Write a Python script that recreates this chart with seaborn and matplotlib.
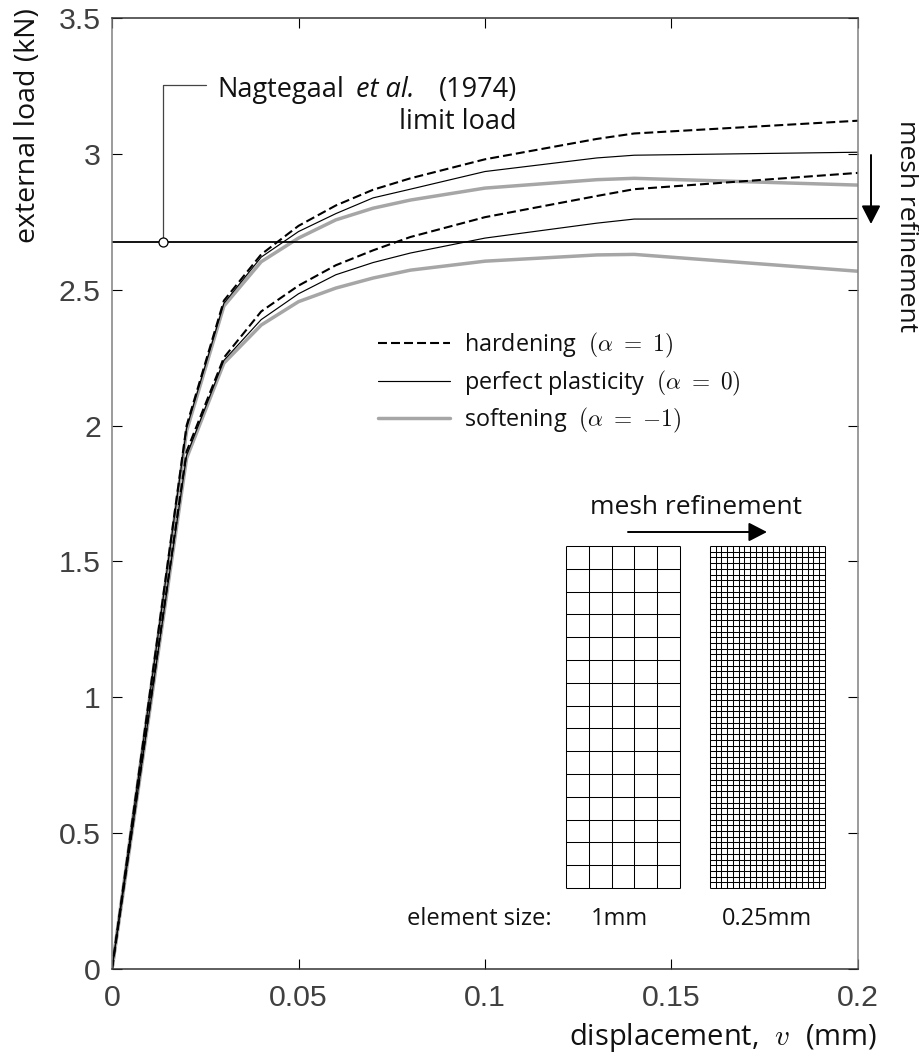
import numpy as np
import pandas as pd
import matplotlib
matplotlib.use("Agg")
import matplotlib.pyplot as plt
from matplotlib.lines import Line2D
from matplotlib.patches import FancyArrowPatch
import seaborn as sns

# Curve data
disp = [0, 0.02, 0.03, 0.04, 0.05, 0.06, 0.07, 0.08, 0.10, 0.13, 0.14, 0.20]
hard_coarse = [0, 2.00, 2.46, 2.63, 2.735, 2.81, 2.868, 2.91, 2.98, 3.055, 3.075, 3.122]
perf_coarse = [0, 1.99, 2.45, 2.62, 2.714, 2.78, 2.838, 2.87, 2.935, 2.985, 2.995, 3.006]
soft_coarse = [0, 1.98, 2.44, 2.603, 2.69, 2.757, 2.80, 2.83, 2.874, 2.905, 2.91, 2.885]
hard_fine = [0, 1.905, 2.25, 2.42, 2.515, 2.59, 2.645, 2.694, 2.767, 2.845, 2.87, 2.93]
perf_fine = [0, 1.89, 2.24, 2.39, 2.485, 2.555, 2.60, 2.635, 2.69, 2.745, 2.76, 2.762]
soft_fine = [0, 1.88, 2.23, 2.37, 2.456, 2.506, 2.543, 2.572, 2.605, 2.628, 2.63, 2.568]

limit_load = 2.675
limit_x = 0.0138
leader_y = 3.254
leader_end_x = 0.0252

x_ticks = [0, 0.05, 0.1, 0.15, 0.2]
x_tick_labels = ["0", "0.05", "0.1", "0.15", "0.2"]
y_ticks = [0, 0.5, 1, 1.5, 2, 2.5, 3, 3.5]
y_tick_labels = ["0", "0.5", "1", "1.5", "2", "2.5", "3", "3.5"]

# mesh cells (columns, rows)
coarse_mesh = (5, 15)
fine_mesh = (20, 60)

W, H = 920, 1057
TEXT_FONT = "Open Sans"
TICK_FONT = "Liberation Sans"
INK = "#111111"

sns.set_theme(style="ticks")
plt.rcParams["font.family"] = [TEXT_FONT, "DejaVu Sans"]
plt.rcParams["mathtext.fontset"] = "cm"


def fx(px):
    return px / W


def fy(py):
    return 1 - py / H


def add_mesh(fig, left, top, right, bottom, cells):
    m = fig.add_axes([fx(left), fy(bottom), fx(right - left), (bottom - top) / H])
    ncol, nrow = cells
    m.vlines(np.arange(ncol + 1), 0, nrow, color="black", lw=0.75, clip_on=False)
    m.hlines(np.arange(nrow + 1), 0, ncol, color="black", lw=0.75, clip_on=False)
    m.set_xlim(0, ncol)
    m.set_ylim(0, nrow)
    m.axis("off")


def add_arrow(fig, start, end):
    fig.add_artist(FancyArrowPatch(
        (fx(start[0]), fy(start[1])), (fx(end[0]), fy(end[1])), transform=fig.transFigure,
        arrowstyle="-|>,head_length=6.2,head_width=3.2", lw=1.4, color="black",
        shrinkA=0, shrinkB=0, mutation_scale=1.8))


def put(x, y, s, size=19.5, **kw):
    kw.setdefault("ha", "left")
    kw.setdefault("va", "center")
    fig.text(fx(x), fy(y), s, fontsize=size, color=INK, **kw)


fig = plt.figure(figsize=(W / 100, H / 100), dpi=100)
ax = fig.add_axes([fx(112), fy(969), fx(858 - 112), (969 - 18) / H])

styles = {
    "soft": dict(color="#a6a6a6", lw=2.5, linestyle="-"),
    "perf": dict(color="black", lw=0.85, linestyle="-"),
    "hard": dict(color="black", lw=1.5, linestyle=(0, (4.3, 1.95))),
}
curves = [
    ("soft", soft_coarse),
    ("soft", soft_fine),
    ("perf", perf_coarse),
    ("perf", perf_fine),
    ("hard", hard_coarse),
    ("hard", hard_fine),
]
for kind, vals in curves:
    df = pd.DataFrame({"disp": disp, "load": vals})
    sns.lineplot(data=df, x="disp", y="load", ax=ax, errorbar=None, legend=False, **styles[kind])

# limit load line and leader
ax.axhline(limit_load, color="black", lw=1.3)
ax.plot([limit_x, limit_x, leader_end_x], [limit_load, leader_y, leader_y],
        color="#444444", lw=0.9)
ax.plot([limit_x], [limit_load], "o", ms=6.5, mfc="white", mec="black", mew=0.9, zorder=5)

ax.set_xlim(0, 0.2)
ax.set_ylim(0, 3.5)
ax.set_xticks(x_ticks)
ax.set_xticklabels(x_tick_labels)
ax.set_yticks(y_ticks)
ax.set_yticklabels(y_tick_labels)
ax.tick_params(direction="in", top=True, right=True, length=7.2, width=0.8,
               color="black", labelsize=21.8, labelcolor="#404040", pad=8)
ax.tick_params(axis="x", pad=11)
for lab in ax.get_xticklabels() + ax.get_yticklabels():
    lab.set_fontfamily(TICK_FONT)
for side, col in [("left", "#808080"), ("right", "#808080"), ("top", "#333333"), ("bottom", "#333333")]:
    ax.spines[side].set_visible(True)
    ax.spines[side].set_color(col)
    ax.spines[side].set_linewidth(1.1)
ax.set_xlabel("")
ax.set_ylabel("")

leg_items = [
    (Line2D([], [], **styles["hard"]), "hardening $\\ (\\alpha\\ =\\ 1)$"),
    (Line2D([], [], **styles["perf"]), "perfect plasticity $\\ (\\alpha\\ =\\ 0)$"),
    (Line2D([], [], **styles["soft"]), "softening $\\ (\\alpha\\ =\\ {-}1)$"),
]
ax.legend([i[0] for i in leg_items], [i[1] for i in leg_items], frameon=False,
          loc="upper left", bbox_to_anchor=(fx(378), fy(331)), bbox_transform=fig.transFigure,
          fontsize=16.8, borderpad=0, borderaxespad=0, handlelength=3.1, handletextpad=0.6,
          labelspacing=0.36, labelcolor=INK)

# axis titles
put(877, 1038, "displacement, $\\ v\\ $ (mm)", size=21, ha="right")
put(28, 8, "external load (kN)", size=20.5, ha="center", va="top", rotation=90)

# annotation texts
put(217, 90, "Nagtegaal")
put(356, 90, "et al.", style="italic")
put(517, 90, "(1974)", ha="right")
put(517, 122, "limit load", ha="right")
put(696, 508, "mesh refinement", size=19, ha="center")
put(907, 120, "mesh refinement", size=19, ha="center", va="top", rotation=270)

add_arrow(fig, (628, 532), (767, 532))
add_arrow(fig, (871, 155), (871, 224))

# meshes
add_mesh(fig, 566, 546, 680, 888, coarse_mesh)
add_mesh(fig, 710, 546, 825, 888, fine_mesh)
put(407, 919, "element size:", size=17)
put(619, 919, "1mm", size=17, ha="center")
put(767, 919, "0.25mm", size=17, ha="center")

fig.savefig("out.png", dpi=100)
